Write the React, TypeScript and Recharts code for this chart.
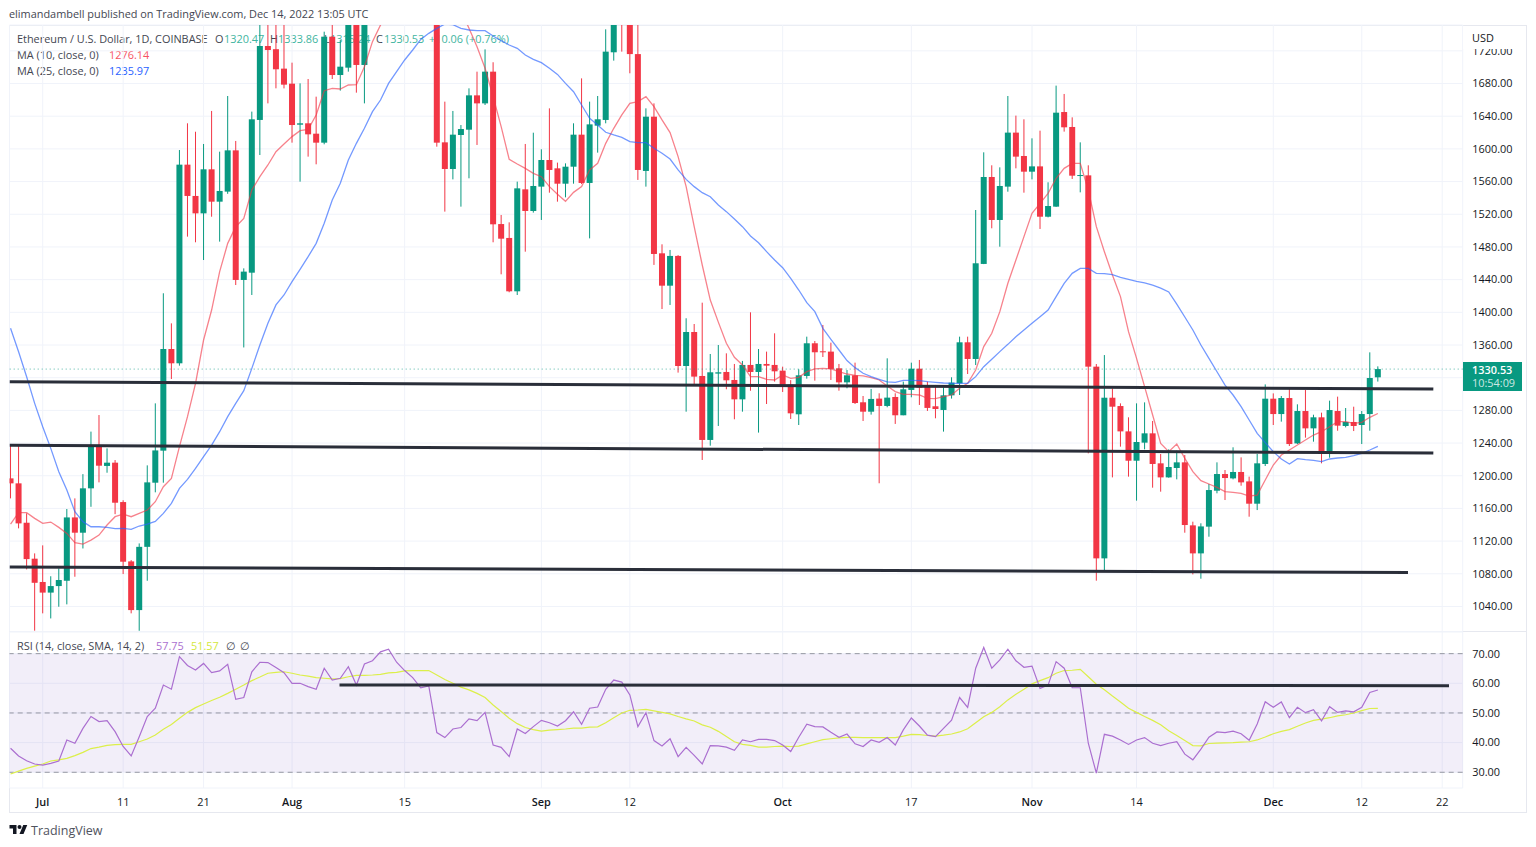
import { ComposedChart, Bar, Line, XAxis, YAxis, CartesianGrid, ReferenceLine, ReferenceArea } from 'recharts';

// one entry per daily candle, starting Jun 27 2022
const opens = [
  1196.8,1190.7,1142.5,1098.5,1070,1057,1065,1071.5,1149,1130.3,
  1184.6,1236.8,1212,1216,1167.8,1095.2,1035.6,1113,1191.5,1230.7,
  1355.1,1337.6,1580.7,1542.4,1521.1,1575,1535.4,1547.7,1598.2,1439.6,
  1448.5,1635.4,1725.9,1722,1698.2,1679.8,1629.6,1631.3,1618.6,1607.6,
  1737.3,1690.4,1699.4,1770,1702.7,1850,1880,1958,1985,1935,
  1900,1877,1833,1850,1608,1575.4,1617,1623.5,1665.5,1655.7,
  1694.5,1508,1491,1425.7,1550.5,1524,1553.8,1586.4,1576.2,1557.4,
  1578.2,1617.4,1558.3,1628.4,1635.4,1718.2,1785,1760,1716,1573,
  1639.4,1472.2,1432.6,1469,1334.3,1375.9,1322.1,1243.8,1325,1327,
  1317.2,1293.5,1335.6,1327,1336.8,1335.6,1328.6,1311.5,1275.2,1322.1,
  1362.1,1352.3,1351.9,1331.5,1314.3,1322.9,1289.9,1278.4,1294.4,1285.4,
  1296.4,1274,1305,1331,1310.7,1285,1280.5,1298.4,1313.1,1363.3,
  1342.9,1459.2,1565.6,1513,1553.8,1619.9,1591.3,1572.1,1578.6,1517,
  1529.3,1645.1,1626.8,1567.2,1567.6,1333.5,1098.9,1295.5,1285.3,1254.3,
  1218.4,1240.5,1251.9,1215.2,1198,1209.5,1216.4,1139.3,1105,1137.7,
  1181.7,1202.1,1196.8,1204.6,1193.1,1165.8,1214.4,1294.3,1275.5,1295.1,
  1239.6,1279.2,1258,1271.5,1230.3,1279.2,1260.9,1265.8,1262.1,1275.5,
  1320.47,
];
const highs = [
  1237.6,1237.6,1154,1105,1114.8,1077,1086.7,1159.3,1172.3,1202,
  1254,1274.3,1233.5,1219.2,1170,1096.8,1117.2,1212.7,1288.6,1423.3,
  1386.5,1598.6,1631.3,1621,1606,1646.4,1596.6,1664.7,1609.7,1453.8,
  1645.6,1760,1762,1770,1765,1705.5,1680.2,1685.5,1663.9,1743.4,
  1770,1733.2,1780,1790,1865,1900,1965,2020,1990,1950,
  1920,1890,1860,1880,1657.8,1646.4,1629.2,1674.1,1694.5,1721.8,
  1706,1519.1,1510.1,1559.9,1606,1619.8,1599.5,1649.6,1583.2,1582.3,
  1631.3,1686.3,1657.8,1664.7,1746.3,1790,1790,1785,1770,1649.6,
  1655.7,1483.2,1476.3,1470,1392.7,1385.7,1411.8,1349,1360,1349.8,
  1336.8,1340.5,1400,1355.1,1351.9,1374.3,1333.5,1317,1330.3,1370.2,
  1364.9,1384.5,1362.9,1336.8,1329.4,1338.4,1297.6,1306.2,1300.9,1343.7,
  1300.9,1315.2,1338.4,1341.7,1315.2,1311.1,1308.2,1320.5,1370.2,1370.2,
  1525.2,1595.8,1579.9,1577.4,1664.7,1640.7,1636.2,1612.9,1622.3,1559.1,
  1677.4,1667.2,1638.6,1608,1579.9,1336.7,1347.7,1306.9,1288.6,1271.5,
  1288.6,1289.8,1267,1226.6,1232.3,1230.7,1225.4,1143.8,1141.8,1189.9,
  1216.4,1207,1234.8,1222.5,1198.9,1226.6,1311.8,1300.8,1297.6,1307.8,
  1287.4,1304.9,1274.7,1277.2,1291.9,1296.8,1282.9,1284.5,1279.2,1351,
  1333.86,
];
const lows = [
  1172.3,1135.6,1085.4,1010.4,1031.6,1025.4,1039.7,1042.6,1076.4,1111,
  1162,1191.9,1203.7,1153,1079.7,1031.6,1010.3,1071.5,1179.7,1191.5,
  1318.4,1334.7,1492.6,1485.7,1464,1517,1486.5,1545,1433.4,1357,
  1421.2,1592.5,1655.7,1674.1,1674,1607.6,1559.9,1590.5,1581.1,1605.6,
  1685.5,1671.3,1694.5,1668.8,1655.7,1820,1870,1950,1900,1880,
  1860,1800,1810,1602.7,1523.2,1562.7,1529.3,1564,1604.8,1653.7,
  1485.7,1446.5,1424.5,1421.2,1474.2,1522,1513,1546.4,1535.4,1540.7,
  1557.4,1557,1490.5,1595.4,1631.3,1708,1719,1692.5,1562,1553.8,
  1458,1404,1409,1326.2,1278.4,1311.1,1219.3,1236.8,1260.9,1305.8,
  1269.1,1278.4,1304,1252.8,1287.8,1315.2,1302.5,1269.5,1262.1,1318.8,
  1316.4,1345.3,1317.2,1304.1,1307,1287.8,1267,1274.8,1190.8,1283.8,
  1263.4,1274,1296,1286.6,1279.3,1270.3,1254,1294.4,1298.8,1324.5,
  1335.5,1459,1502.8,1480.3,1547.6,1576.2,1546.4,1562.7,1502,1516.2,
  1529,1621.1,1563.2,1546.8,1227.4,1071.6,1084.6,1198,1235.6,1198.9,
  1169.5,1232.3,1185.4,1180.5,1197.6,1195.6,1130.3,1079.3,1074,1125.4,
  1178.5,1170.3,1195.6,1187.8,1149.9,1158,1211.9,1262.1,1266.2,1236.4,
  1238.8,1246.6,1241.7,1215.2,1222.1,1255.1,1259.2,1254.7,1238.8,1255.1,
  1315.24,
];
const closes = [
  1190.7,1141.7,1098,1069,1057,1065,1072.4,1149,1130.3,1184.6,
  1236.8,1212.3,1216,1167,1094.8,1035.6,1113,1191.9,1231,1355.1,
  1337.6,1580.7,1542.4,1521.1,1575,1535.4,1548.5,1598.2,1439.6,1449.8,
  1636.2,1725.9,1721,1697.4,1678.6,1629.2,1631.3,1617.8,1607.6,1737.3,
  1690.4,1700.6,1775,1702.7,1850,1880,1958,1985,1935,1900,
  1877,1833,1847,1607.6,1575.4,1617.4,1624.3,1665.5,1655.7,1694.5,
  1507.7,1490.1,1425.7,1551.7,1524,1554.6,1586.4,1574.2,1557.4,1578.2,
  1617.4,1558.3,1630,1636.2,1719,1780,1760,1716,1574.2,1639.4,
  1471.4,1432.6,1469,1334.3,1375.9,1321.3,1243.8,1326.6,1326.6,1316.8,
  1293.5,1335.6,1327,1336.8,1334.7,1327.8,1310.7,1276.4,1322.9,1362.1,
  1351.1,1351.1,1330.7,1314.3,1322.9,1289,1278.4,1294,1285.4,1295.6,
  1274,1305.8,1331,1307.8,1283,1281.7,1298.4,1314,1363.3,1342.9,
  1460,1565.6,1513,1554.6,1619.9,1590.5,1572.1,1578.6,1517,1530.1,
  1644.3,1626.4,1567.2,1568,1333.5,1098.9,1295.5,1284.5,1254.3,1218.4,
  1241.3,1251.9,1214.4,1198,1210.7,1216.4,1139.7,1105,1138,1182.5,
  1202.1,1197.2,1204.6,1191.9,1165.8,1215.2,1294.3,1275.5,1295.1,1238.8,
  1279.2,1258,1271.5,1230.3,1280.4,1261.3,1265.8,1260.9,1275.5,1319.6,
  1330.53,
];
const ma10 = [
  1140.9,1154.8,1154.8,1147.8,1141.7,1143.3,1136.8,1129.5,1118,1116.4,
  1121.3,1127.4,1139.7,1149.9,1153.1,1149.9,1153.9,1158,1168.2,1186.6,
  1196.8,1235.6,1272.3,1313.1,1366.1,1402.8,1449.8,1484.4,1504.8,1515,
  1549.7,1566,1580.3,1596.6,1606,1615,1622.3,1623.9,1641.5,1671.2,
  1674.1,1673.3,1678.2,1678.6,1700.6,1731.2,1751.6,1785,1820,1850,
  1870,1885,1895,1880,1850,1810,1770,1747.5,1725.1,1698.6,
  1663.9,1627.2,1587.2,1581.5,1576.2,1570.1,1566,1553.8,1544.4,1535.8,
  1546.8,1553.8,1574.2,1582.3,1606.8,1625.2,1641.5,1655.7,1657.8,1663.9,
  1651.7,1635.4,1619.9,1590.5,1553.8,1504.8,1457.9,1415,1388,1362.1,
  1344.9,1335.6,1321.3,1321.3,1318,1317.2,1323.3,1319.2,1320.5,1327.4,
  1330.7,1331.5,1330.7,1327.4,1324.5,1322.9,1322.1,1320,1317.2,1309.9,
  1303,1299.7,1299.7,1298.8,1294.8,1294.4,1296.8,1298.8,1307,1313.1,
  1329.4,1358,1374.3,1400.8,1435.5,1464,1492.6,1521.1,1533.4,1545.6,
  1564,1576.2,1582.3,1582.3,1549.7,1504.8,1474.2,1445.7,1419.2,1376.3,
  1343.7,1309,1274.3,1239.6,1229.5,1238.8,1221.3,1205,1194,1189.9,
  1185.8,1180.5,1179.7,1178.5,1175.2,1176.4,1194.8,1213.1,1225.4,1231.5,
  1237.6,1243.7,1249.8,1253.9,1260,1266.2,1266.2,1264.1,1265.4,1271.5,
  1276.14,
];
const ma25 = [
  1380.4,1351.8,1321.2,1288.6,1260,1233.5,1204.9,1182.5,1156,1143.8,
  1137.6,1137.6,1136.8,1135.2,1135.6,1134.4,1138.5,1140.9,1144.2,1154,
  1166.2,1184.6,1195.6,1209,1223.3,1237.6,1253.9,1272.3,1288.6,1304.1,
  1331.4,1360,1386.5,1409,1421.2,1437.5,1452.6,1468.1,1484.4,1508.9,
  1537.5,1557.9,1586.4,1606.8,1625.2,1645.6,1659.8,1680.2,1694.5,1708.8,
  1721,1734,1741.4,1747.5,1752.8,1752,1747.5,1745.5,1744.7,1744.7,
  1738.1,1732.4,1727.1,1723,1714.9,1709.6,1705.5,1698.6,1691.2,1680.2,
  1670,1653.7,1637.4,1629.2,1620.3,1617,1614.1,1608.8,1607.6,1607.6,
  1600.7,1594.6,1587.6,1574.2,1562.7,1553.8,1546.4,1541.5,1531.3,1523.2,
  1514.2,1504.8,1493.4,1485.2,1474.2,1464,1454.6,1441.6,1427.3,1411.8,
  1400.8,1380.4,1367,1353.9,1340.9,1332.3,1325.4,1321.3,1318,1314.8,
  1314.3,1316.8,1316.8,1316.4,1315.2,1314.3,1313.5,1313.1,1313.1,1313.1,
  1321.3,1333.5,1342.5,1351.9,1360.8,1370.2,1378.4,1386.5,1394.7,1402.8,
  1419.2,1435.5,1447.7,1453.8,1453.8,1447.7,1447.3,1446.1,1442.8,1440.4,
  1437.9,1435.9,1433.4,1429.7,1424.9,1410,1394.3,1378.4,1360,1343.7,
  1327.3,1311,1298.8,1284.5,1268.2,1251.9,1240.5,1229.5,1220.5,1214.4,
  1220.9,1219.7,1218.9,1217.2,1220.5,1221.7,1222.5,1224.6,1227.4,1231.5,
  1235.97,
];
const rsi = [
  38.1,35.5,33.9,32.8,32.4,33,33.8,40.9,39.8,44.8,
  48.8,47.1,47.4,43.7,38.7,35.5,42,48.8,51.6,59.4,
  58,69,66,64.5,66.7,63.6,64.2,66.4,54.6,55.2,
  63.9,67.1,67,65.3,63.6,60,60,58.9,58,65.1,
  61.1,61.7,65.6,59.4,66.5,67.6,70.6,71.5,67.1,64.3,
  61.9,58.5,59.1,43.4,41.7,44.6,45.1,48,47.4,50.2,
  39.2,38.4,35.3,44.6,43.1,45.4,47.5,46.7,45.6,47.4,
  50.4,46.2,51.6,52,58,61.1,60.4,56.1,45.4,50.1,
  40.7,38.9,41.3,35.3,38.4,35.7,32.8,39,38.9,38.5,
  37.4,40.9,40.3,41.1,41.1,40.7,39.2,37,41.8,46.2,
  45.4,45.3,43.5,41.8,42.9,39.6,38.7,40.9,40.1,41.7,
  39.2,44.3,48.3,45.6,42.5,42,44.8,47.6,55.2,51.9,
  65.1,72.1,65.1,67.9,71.5,67.6,65.4,65.8,58.3,59.4,
  67.3,65.1,58.5,58.5,39.8,29.7,42.8,42.2,40.9,39.4,
  40.9,41.7,39.8,39,39.8,40.3,36.1,34.2,37.8,41.8,
  43.6,43.4,43.9,43,40.8,46.3,53.8,51.9,53.7,48.4,
  51.9,50.1,51.1,47.3,52.1,50.2,50.7,50.4,51.9,56.9,
  57.75,
];
const rsiMa = [
  29.4,30.4,31.3,32.1,32.8,33.8,34.2,34.7,35.6,36.7,
  38,38.5,39.1,39.3,39.4,39.4,40.3,41.2,42.6,44.5,
  46.1,48.2,50.2,51.8,53,54.2,55.3,56.6,58,59.4,
  60.9,62.1,63.4,63.7,63.9,63.4,62.8,62.4,61.9,61.7,
  61.5,61.6,62.2,62.7,62.7,62.8,63,63.5,63.7,64.2,
  64.3,64.3,64.3,62.8,61.3,60,58.7,57.8,56.6,55.2,
  52.7,50.5,48.2,46.4,45.1,44.4,43.9,44.2,44.4,44.6,
  44.9,44.9,45.2,45.3,46.7,48.4,50,50.9,51,51.2,
  50.7,50.2,49.7,48.8,48,47.3,46,45.2,43.8,42.1,
  40.3,39.4,39.1,38.5,38.5,38.7,38.8,38.7,38.8,39.6,
  40.3,41,41.3,41.6,41.8,41.8,41.7,41.7,41.7,41.7,
  41.7,42.2,42.8,42.7,42.4,42.2,42.5,42.9,43.6,44.7,
  46.7,48.7,50.2,52.1,54.4,56.3,58,59.8,60.9,61.9,
  63.4,64.3,64.4,64.7,62.2,59.7,57.8,55.7,53.7,51.6,
  50.2,48.8,47.5,46,44,42.4,40.7,39,38.9,39.7,
  39.8,39.9,40,40.2,40.3,40.9,41.9,43,43.8,44.4,
  45.5,46.6,47.5,47.9,48.4,49,49.4,50,50.8,51.5,
  51.57,
];

// days counted from Jul 1, so the time axis stays numeric
const firstDay = -4;
const dayDomain = [-4.13, 176.55];
const dayTicks = [0, 10, 20, 31, 45, 62, 73, 92, 108, 123, 136, 153, 164, 174];
const dayLabels = ['Jul', '11', '21', 'Aug', '15', 'Sep', '12', 'Oct', '17', 'Nov', '14', 'Dec', '12', '22'];
const monthLabels = ['Jul', 'Aug', 'Sep', 'Oct', 'Nov', 'Dec'];

const priceDomain = [1009.4, 1751.6];
const priceTicks = [1040, 1080, 1120, 1160, 1200, 1240, 1280, 1320, 1360, 1400, 1440, 1480, 1520, 1560, 1600, 1640, 1680, 1720];
const lastPrice = 1330.53;

const rsiDomain = [24.7, 77.3];
const rsiTicks = [30, 40, 50, 60, 70];
const rsiDashed = [30, 50, 70];

// hand drawn levels: [dayStart, valueStart, dayEnd, valueEnd]
const priceLevels = [
  [-4.13, 1315.1, 172.9, 1306.2],
  [-4.13, 1237.3, 172.9, 1227.8],
  [-4.13, 1088.3, 169.75, 1081.6],
];
const rsiLevel = [36.9, 59.45, 174.85, 59.2];

const rows = opens.map((open, i) => ({
  day: firstDay + i,
  open,
  high: highs[i],
  low: lows[i],
  close: closes[i],
  range: [lows[i], highs[i]],
  ma10: ma10[i],
  ma25: ma25[i],
  rsi: rsi[i],
  rsiMa: rsiMa[i],
}));

const FONT = '"Open Sans", sans-serif';
const UP = '#089981';
const DOWN = '#f23645';
const GRID = '#f0f3fa';
const LEVEL = '#2a2e39';

function Candle(props: any) {
  const { x, y, width, height, payload } = props;
  const { open, close, high, low } = payload;
  const perUnit = height / (high - low);
  const color = close < open ? DOWN : UP;
  const top = y + (high - Math.max(open, close)) * perUnit;
  const bodyHeight = Math.max(Math.abs(open - close) * perUnit, 1);
  const mid = x + width / 2;
  return (
    <g>
      <line x1={mid} x2={mid} y1={y} y2={y + height} stroke={color} strokeWidth={1} />
      <rect x={x} y={top} width={width} height={bodyHeight} fill={color} />
    </g>
  );
}

function DayTick(props: any) {
  const { x, y, payload } = props;
  const label = dayLabels[dayTicks.indexOf(payload.value)];
  const isMonth = monthLabels.includes(label);
  return (
    <text x={x} y={y + 13} textAnchor="middle" dominantBaseline="central" fontSize={10.9} fontFamily={FONT}
      fontWeight={isMonth ? 600 : 400} fill="#131722">
      {label}
    </text>
  );
}

function levelSegment(level: number[]) {
  return [{ x: level[0], y: level[1] }, { x: level[2], y: level[3] }];
}

const textAt = (left: number, top: number, color: string, extra: any = {}) => ({
  position: 'absolute' as const, left, top, color, fontFamily: FONT, fontSize: 10.9, lineHeight: '14px', whiteSpace: 'nowrap' as const, ...extra,
});

const LABEL = '#434651';
const UPTEXT = '#3fb5a0';

export default function App() {
  return (
    <div style={{ position: 'absolute', left: 0, top: 0, width: 1536, height: 847, background: '#fff', overflow: 'hidden' }}>
      <div style={textAt(9, 7, LABEL)}>elimandambell published on TradingView.com, Dec 14, 2022 13:05 UTC</div>

      {/* frame */}
      <div style={{ position: 'absolute', left: 9, top: 25, width: 1518, height: 788, boxSizing: 'border-box', border: '1px solid #e6e8ef' }} />
      <div style={{ position: 'absolute', left: 9, top: 631, width: 1518, height: 1, background: '#e6e8ef' }} />

      {/* legend sits under the candles */}
      <div style={textAt(17, 32, LABEL)}>Ethereum / U.S. Dollar, 1D, COINBASE</div>
      <div style={textAt(215, 32, LABEL)}>O</div>
      <div style={textAt(224, 32, UPTEXT)}>1320.47</div>
      <div style={textAt(270, 32, LABEL)}>H</div>
      <div style={textAt(278, 32, UPTEXT)}>1333.86</div>
      <div style={textAt(324, 32, LABEL)}>L</div>
      <div style={textAt(330, 32, UPTEXT)}>1315.24</div>
      <div style={textAt(376, 32, LABEL)}>C</div>
      <div style={textAt(384, 32, UPTEXT)}>1330.53</div>
      <div style={textAt(429, 32, UPTEXT)}>+10.06 (+0.76%)</div>
      <div style={textAt(17, 48, LABEL)}>MA (10, close, 0)</div>
      <div style={textAt(109, 48, '#f7525f')}>1276.14</div>
      <div style={textAt(17, 64, LABEL)}>MA (25, close, 0)</div>
      <div style={textAt(109, 64, '#2962ff')}>1235.97</div>

      <div style={{ position: 'absolute', left: 0, top: 0 }}>
        <ComposedChart width={1536} height={632} data={rows} margin={{ top: 25, right: 9, bottom: 0.5, left: 9.5 }}>
          <CartesianGrid stroke={GRID} strokeWidth={1} />
          <XAxis type="number" dataKey="day" domain={dayDomain} ticks={dayTicks} allowDataOverflow hide />
          <YAxis orientation="right" type="number" width={64.3} domain={priceDomain} ticks={priceTicks} allowDataOverflow
            axisLine={false} tickLine={false} tickSize={0} tickMargin={9.6} interval={0}
            tick={{ fontSize: 10.9, fontFamily: FONT, fill: '#131722' }}
            tickFormatter={(v: number) => v.toFixed(2)} />
          <ReferenceLine y={lastPrice} stroke={UP} strokeDasharray="1 3" strokeOpacity={0.7} />
          <Line dataKey="ma10" stroke="#f23645" strokeOpacity={0.62} strokeWidth={1.3} dot={false} isAnimationActive={false} />
          <Line dataKey="ma25" stroke="#2962ff" strokeOpacity={0.65} strokeWidth={1.3} dot={false} isAnimationActive={false} />
          <Bar dataKey="range" barSize={6} shape={Candle} isAnimationActive={false} />
          {priceLevels.map((level, i) => (
            <ReferenceLine key={i} segment={levelSegment(level)} stroke={LEVEL} strokeWidth={3} ifOverflow="hidden" />
          ))}
        </ComposedChart>
      </div>

      <div style={{ position: 'absolute', left: 0, top: 632 }}>
        <ComposedChart width={1536} height={181} data={rows} margin={{ top: 0, right: 9, bottom: 0, left: 9.5 }}>
          <CartesianGrid stroke={GRID} strokeWidth={1} />
          <ReferenceArea y1={30} y2={70} fill="#7e57c2" fillOpacity={0.1} stroke="none" />
          <XAxis type="number" dataKey="day" domain={dayDomain} ticks={dayTicks} allowDataOverflow height={25} interval={0}
            axisLine={false} tickLine={false} tickSize={0} tickMargin={0} tick={<DayTick />} />
          <YAxis orientation="right" type="number" width={64.3} domain={rsiDomain} ticks={rsiTicks} allowDataOverflow
            axisLine={false} tickLine={false} tickSize={0} tickMargin={9.6} interval={0}
            tick={{ fontSize: 10.9, fontFamily: FONT, fill: '#131722' }}
            tickFormatter={(v: number) => v.toFixed(2)} />
          {rsiDashed.map((v) => (
            <ReferenceLine key={v} y={v} stroke="#787b86" strokeDasharray="5 4" strokeOpacity={0.75} />
          ))}
          <Line dataKey="rsiMa" stroke="#dcef4a" strokeWidth={1.2} dot={false} isAnimationActive={false} />
          <Line dataKey="rsi" stroke="#ab6fd0" strokeWidth={1.2} dot={false} isAnimationActive={false} />
          <ReferenceLine segment={levelSegment(rsiLevel)} stroke={LEVEL} strokeWidth={3} ifOverflow="hidden" />
        </ComposedChart>
      </div>

      <div style={textAt(17, 639, LABEL)}>RSI (14, close, SMA, 14, 2)</div>
      <div style={textAt(156, 639, '#ab6fd0')}>57.75</div>
      <div style={textAt(191, 639, '#d4e73c')}>51.57</div>
      <div style={textAt(226, 639, LABEL)}>∅</div>
      <div style={textAt(240, 639, LABEL)}>∅</div>

      {/* covers the top of the scale like the unit box does */}
      <div style={{ position: 'absolute', left: 1463, top: 26, width: 63, height: 22.5, background: '#fff' }} />
      <div style={textAt(1472, 31, '#131722')}>USD</div>

      {/* last price tag */}
      <div style={{ position: 'absolute', left: 1463, top: 362, width: 59, height: 29, background: UP }} />
      <div style={textAt(1472, 364, '#fff', { fontWeight: 600, lineHeight: '12px' })}>1330.53</div>
      <div style={textAt(1472, 377, 'rgba(255,255,255,0.8)', { lineHeight: '12px' })}>10:54:09</div>

      <svg style={{ position: 'absolute', left: 9, top: 823 }} width={19} height={14} viewBox="0 0 36 28">
        <path d="M14 22H7V11H0V4h14v18zM28 22h-8l7.5-18h8L28 22z" fill="#131722" />
        <circle cx={20} cy={8} r={4} fill="#131722" />
      </svg>
      <div style={textAt(31, 823, '#50535e', { fontSize: 12.5, lineHeight: '16px' })}>TradingView</div>
    </div>
  );
}
